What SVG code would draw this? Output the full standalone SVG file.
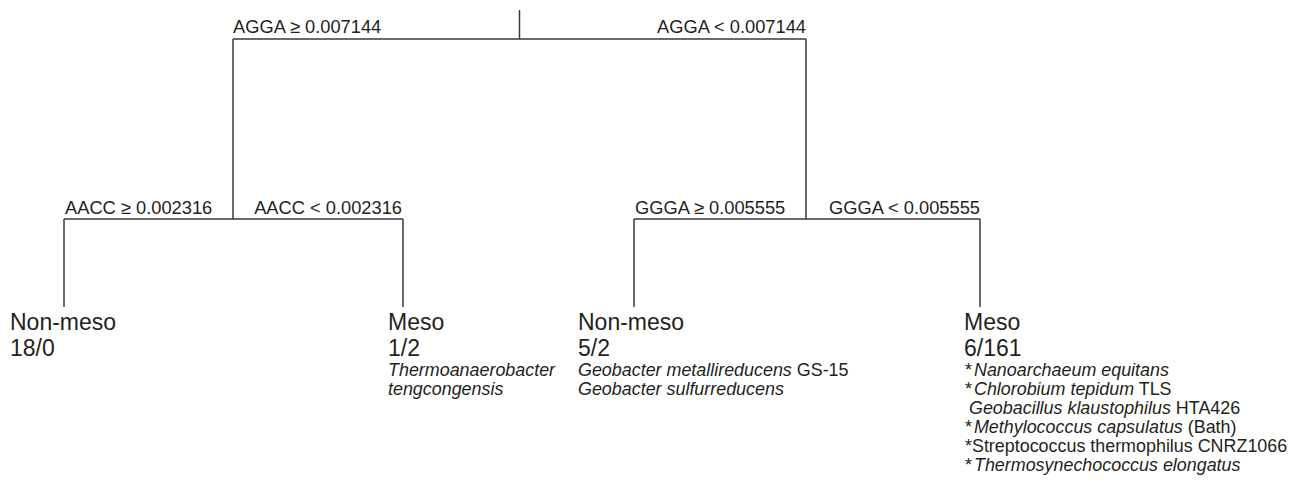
<svg xmlns="http://www.w3.org/2000/svg" width="1298" height="491" viewBox="0 0 1298 491">
<style>
text{font-family:"Liberation Sans",Arial,Helvetica,sans-serif;fill:#231f20}
.cond{font-size:18.3px}
.cls{font-size:23px}
.sp{font-size:17.9px}
.it{font-style:italic}
.ln{fill:none;stroke:#3a3a3a;stroke-width:1.5}
</style>
<rect width="1298" height="491" fill="#fff"/>
<g id="connectors">
<path class="ln" d="M519.5 10V39M233 39H806M233 39V219M806 39V219M64 219H403M64 219V307M403 219V307M634 219H980M634 219V307M980 219V307"/>
</g>
<g id="edge-labels">
<text class="cond" x="233" y="33">AGGA ≥ 0.007144</text>
<text class="cond" x="806" y="33" text-anchor="end">AGGA &lt; 0.007144</text>
<text class="cond" x="65" y="214">AACC ≥ 0.002316</text>
<text class="cond" x="402" y="214" text-anchor="end">AACC &lt; 0.002316</text>
<text class="cond" x="635" y="214">GGGA ≥ 0.005555</text>
<text class="cond" x="980" y="214" text-anchor="end">GGGA &lt; 0.005555</text>
</g>
<g id="leaf1">
<text class="cls" x="10" y="330">Non-meso</text>
<text class="cls" x="10" y="356">18/0</text>
</g>
<g id="leaf2">
<text class="cls" x="388" y="330">Meso</text>
<text class="cls" x="388" y="356">1/2</text>
<text class="sp it" x="388" y="376">Thermoanaerobacter</text>
<text class="sp it" x="388" y="395">tengcongensis</text>
</g>
<g id="leaf3">
<text class="cls" x="578" y="330">Non-meso</text>
<text class="cls" x="578" y="356">5/2</text>
<text class="sp" x="578" y="376"><tspan class="it">Geobacter metallireducens</tspan> GS-15</text>
<text class="sp it" x="578" y="395">Geobacter sulfurreducens</text>
</g>
<g id="leaf4">
<text class="cls" x="964" y="330">Meso</text>
<text class="cls" x="964" y="356">6/161</text>
<text class="sp" x="965" y="376">*<tspan class="it" dx="2">Nanoarchaeum equitans</tspan></text>
<text class="sp" x="965" y="395">*<tspan class="it" dx="2">Chlorobium tepidum</tspan> TLS</text>
<text class="sp" x="969" y="414"><tspan class="it">Geobacillus klaustophilus</tspan> HTA426</text>
<text class="sp" x="965" y="433">*<tspan class="it" dx="2">Methylococcus capsulatus</tspan> (Bath)</text>
<text class="sp" x="965" y="452">*Streptococcus thermophilus CNRZ1066</text>
<text class="sp" x="965" y="471">*<tspan class="it" dx="2">Thermosynechococcus elongatus</tspan></text>
</g>
</svg>
